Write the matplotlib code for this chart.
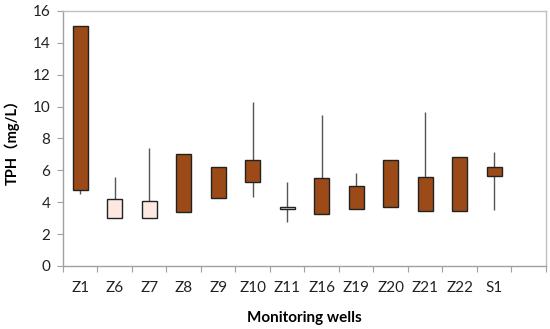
import matplotlib
matplotlib.use("Agg")
import matplotlib.pyplot as plt
import numpy as np

wells = ["Z1", "Z6", "Z7", "Z8", "Z9", "Z10", "Z11", "Z16", "Z19", "Z20", "Z21", "Z22", "S1"]
open_v = [15.05, 3.0, 3.0, 7.05, 6.22, 6.62, 3.55, 5.52, 5.04, 6.63, 5.58, 6.82, 6.19]
close_v = [4.75, 4.2, 4.1, 3.40, 4.28, 5.24, 3.72, 3.27, 3.55, 3.73, 3.42, 3.48, 5.63]
high_v = [15.05, 5.56, 7.42, 7.05, 6.22, 10.3, 5.27, 9.49, 5.81, 6.63, 9.68, 6.82, 7.17]
low_v = [4.5, 3.0, 3.0, 3.40, 4.28, 4.32, 2.76, 3.27, 3.55, 3.73, 3.42, 3.48, 3.51]

plt.rcParams['font.family'] = ['Lato', 'Noto Sans CJK SC', 'DejaVu Sans']

fig = plt.figure(figsize=(5.5, 3.29), dpi=100)
ax = fig.add_axes([0.1145, 0.1915, 0.8782, 0.7751])

up_color = "#FDE9E1"
down_color = "#9C4A18"
n_slots = len(wells) + 1
x = np.arange(len(wells)) + 0.5
w = 0.43
for xi, o, c, h, l in zip(x, open_v, close_v, high_v, low_v):
    ax.vlines(xi, l, h, color="#555555", lw=1.0, zorder=1)
    bottom = min(o, c)
    height = abs(c - o)
    color = up_color if c > o else down_color
    ax.bar(xi, height, bottom=bottom, width=w, color=color,
           edgecolor="#222222", linewidth=1.0, zorder=2)

ax.set_xlim(0, n_slots)
ax.set_ylim(0, 16)
ax.set_yticks(np.arange(0, 17, 2))
ax.set_xticks(np.arange(0, n_slots + 1), minor=False)
ax.set_xticklabels([])
ax.set_xticks(x, minor=True)
ax.set_xticklabels(wells, minor=True)
ax.tick_params(axis='x', which='minor', length=0, labelsize=11, pad=11, colors="#222222")
ax.tick_params(axis='x', which='major', length=4, direction='out', color="#A0A0A0")
ax.tick_params(axis='y', length=4, direction='out', color="#A0A0A0", labelsize=11,
               labelcolor="#222222", pad=5)

for s in ax.spines.values():
    s.set_color("#BFBFBF")
    s.set_linewidth(1.0)
ax.spines['left'].set_color("#A0A0A0")
ax.spines['bottom'].set_color("#A0A0A0")

ax.set_xlabel("Monitoring wells", fontsize=11, fontweight='bold', labelpad=11)
ax.set_ylabel("TPH（mg/L）", fontsize=10.5, fontweight='bold', labelpad=9)

fig.savefig("out.png", dpi=100)
